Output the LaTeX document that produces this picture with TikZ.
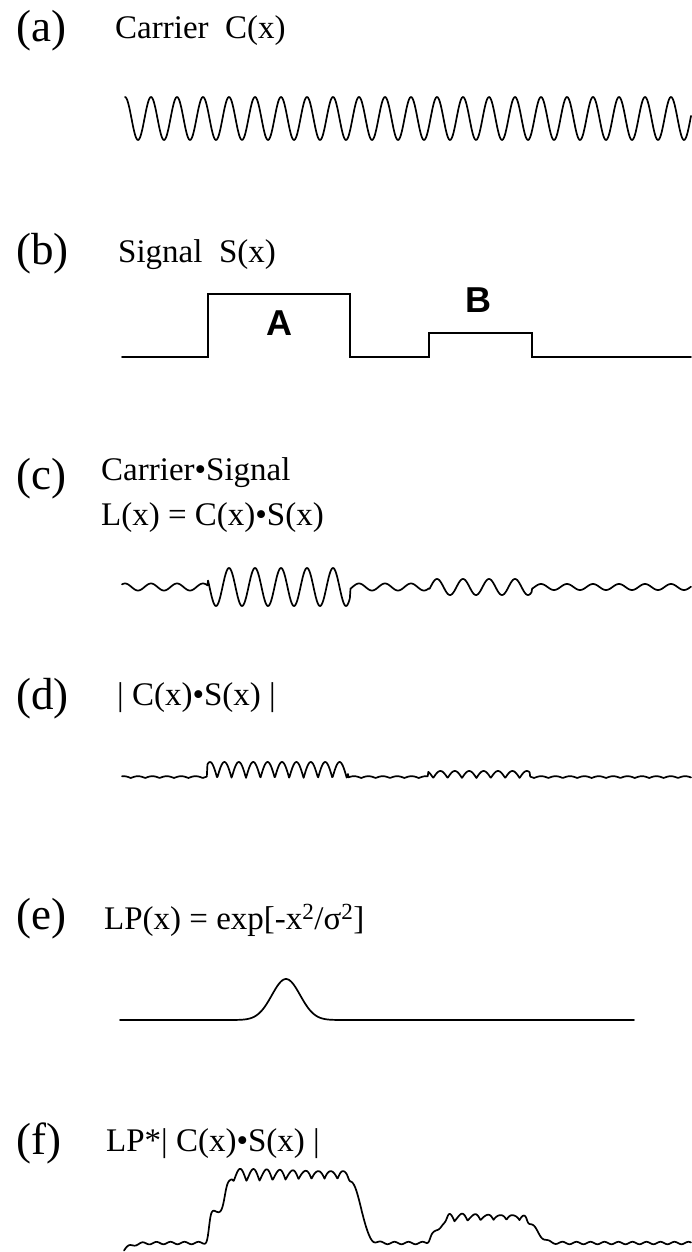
\documentclass[tikz,border=0pt]{standalone}
\usepackage{fontspec}
\setmainfont{Liberation Serif}
\newfontfamily\arialfont{Liberation Sans}
\begin{document}
\begin{tikzpicture}[x=1pt,y=1pt,
  declare function={
    st(\x,\a,\w)=0.5*(1+tanh(max(min((\x-\a)/\w,9),-9)));
    lamp(\x)=3.5+15.5*(\x>=208)*(\x<350)+4.5*(\x>=429)*(\x<532)-0.5*(\x>=532);
    damp(\x)=1.8+14.2*(\x>=207)*(\x<348)+5.2*(\x>=428)*(\x<530);
    sa(\x)=(0.5*st(\x,209,2)+0.5*st(\x,225,3))*(1-st(\x,362,7));
    ra(\x)=st(\x,232,2)*(1-st(\x,349,1.5));
    sb(\x)=(0.5*st(\x,430,2)+0.5*st(\x,441,3))*(1-st(\x,538,8));
    rb(\x)=st(\x,447,2)*(1-st(\x,527,1.5));
    fy(\x)=1243-63*sa(\x)-10*ra(\x)*abs(cos(13.846*(\x-240)))-22*sb(\x)-7*rb(\x)*abs(cos(13.846*(\x-240)))+1.2*sin(25.714*(\x-300))+7*exp(max(-(\x-124)/7,-10));
  },
  lbl/.style={anchor=base west, inner sep=0pt, font=\fontsize{45}{52}\selectfont},
  txt/.style={anchor=base west, inner sep=0pt, font=\fontsize{33}{40}\selectfont},
  pulselbl/.style={inner sep=0pt, font=\arialfont\bfseries\fontsize{36}{40}\selectfont},
  wave/.style={line width=1.7pt, line join=round, line cap=round}]
\useasboundingbox (0,0) rectangle (691,-1252);

% (a)
\node[lbl] (la) at (16,-42) {(a)};
\node[txt] (ta) at (115,-39) {Carrier~~C(x)};
\draw[wave] plot[domain=125:691, samples=700] (\x,{-118.5+21.5*cos(13.846*(\x-125))});

% (b)
\node[lbl] (lb) at (16,-264) {(b)};
\node[txt] (tb) at (118,-262) {Signal~~S(x)};
\draw[wave, line join=miter] (122,-357) -- (208,-357) -- (208,-294) -- (350,-294) -- (350,-357)
  -- (429,-357) -- (429,-333) -- (532,-333) -- (532,-357) -- (691,-357);
\node[pulselbl] (pa) at (279,-323) {A};
\node[pulselbl] (pb) at (478,-300) {B};

% (c)
\node[lbl] (lc) at (16,-489) {(c)};
\node[txt] (tc1) at (101,-480) {Carrier•Signal};
\node[txt] (tc2) at (101,-525) {L(x) = C(x)•S(x)};
\draw[wave] plot[domain=122:691, samples=900] (\x,{-587+lamp(\x)*cos(13.846*(\x-125))});

% (d)
\node[lbl] (ld) at (16,-709) {(d)};
\node[txt] (td) at (117,-705) {|~C(x)•S(x)~|};
\draw[wave] plot[domain=122:691, samples=900] (\x,{-778+damp(\x)*abs(cos(12.5*(\x-210)))});

% (e)
\node[lbl] (le) at (16,-929) {(e)};
\node[txt] (te) at (104,-929) {LP(x) = exp[-x\textsuperscript{2}/σ\textsuperscript{2}]};
\draw[wave] plot[domain=120:634, samples=400] (\x,{-1020+41*exp(-((\x-286)/20)^2)});

% (f)
\node[lbl] (lf) at (16,-1154) {(f)};
\node[txt] (tf) at (106,-1151) {LP*|~C(x)•S(x)~|};
\draw[wave] plot[domain=124:691, samples=900] (\x,{-fy(\x)});
\end{tikzpicture}
\end{document}
